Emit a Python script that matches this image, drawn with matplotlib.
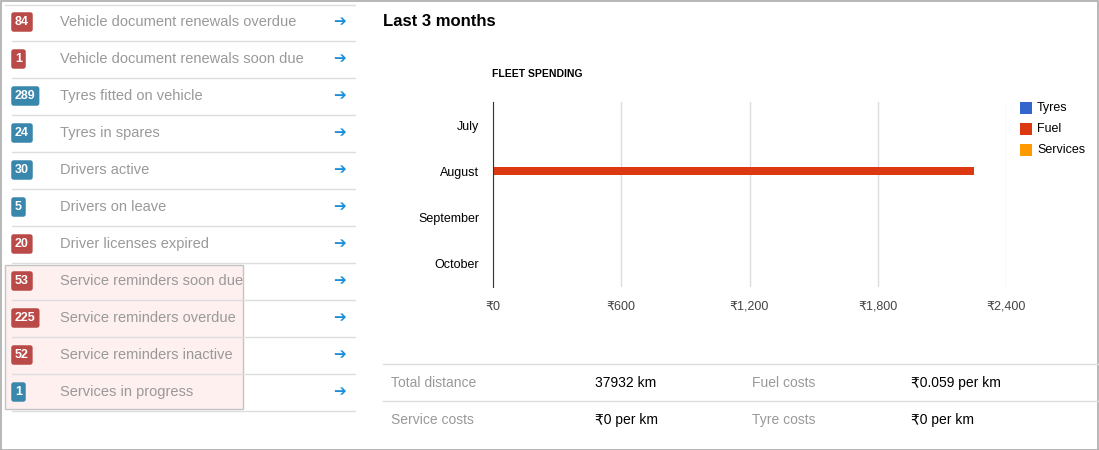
import matplotlib.pyplot as plt
from matplotlib.patches import Rectangle
from matplotlib.lines import Line2D

plt.rcParams['font.family'] = ['Liberation Sans', 'DejaVu Sans']

W, H = 1099, 450

# left panel data
counts = [84, 1, 289, 24, 30, 5, 20, 53, 225, 52, 1]
labels = ["Vehicle document renewals overdue", "Vehicle document renewals soon due",
          "Tyres fitted on vehicle", "Tyres in spares", "Drivers active",
          "Drivers on leave", "Driver licenses expired", "Service reminders soon due",
          "Service reminders overdue", "Service reminders inactive", "Services in progress"]
kinds = ["bad", "bad", "info", "info", "info", "info", "bad", "bad", "bad", "bad", "info"]

# chart data
months = ["July", "August", "September", "October"]
tyres = [0, 0, 0, 0]
fuel = [0, 2250, 0, 0]
services = [0, 0, 0, 0]
xticks = [0, 600, 1200, 1800, 2400]

# summary table
summary = [("Total distance", "37932 km", "Fuel costs", "₹0.059 per km"),
           ("Service costs", "₹0 per km", "Tyre costs", "₹0 per km")]

fig = plt.figure(figsize=(W / 100, H / 100), dpi=100)
fig.patch.set_facecolor('white')


def fx(x):
    return x / W


def fy(y):
    return 1 - y / H


def hline(x0, x1, y, c='#dddddd'):
    fig.add_artist(Line2D([fx(x0), fx(x1)], [fy(y), fy(y)], color=c, lw=1))


# outer border
fig.add_artist(Rectangle((0.0005, 0.001), 0.999, 0.997, fill=False, ec='#aaaaaa', lw=1.2))

# highlight box
fig.add_artist(Rectangle((fx(5), fy(409)), fx(238), 144 / H, fc='#fdf0ef', ec='#c4c4c4', lw=1))

badge_col = {"bad": "#b94a48", "info": "#3a87ad"}
hline(5, 355, 5)
for i, (n, lab, k) in enumerate(zip(counts, labels, kinds)):
    yc = 22 + i * 37
    fig.text(fx(15), fy(yc), str(n), color='white', fontsize=9, fontweight='bold',
             va='center', ha='left',
             bbox=dict(boxstyle='round,pad=0.3,rounding_size=0.2', fc=badge_col[k], ec='none'))
    fig.text(fx(60), fy(yc), lab, color='#999999', fontsize=10.5, va='center')
    fig.text(fx(340), fy(yc), '➔', color='#1a8ed8', fontsize=11, va='center', ha='center',
             family='DejaVu Sans')
    hline(12, 355, yc + 19)

fig.text(fx(383), fy(22), "Last 3 months", fontsize=12, fontweight='bold', va='center')
fig.text(fx(492), fy(74), "FLEET SPENDING", fontsize=7.5, fontweight='bold', va='center')

ax = fig.add_axes([fx(493), fy(287), (1006 - 493) / W, 185 / H])
ys = range(len(months))
h = 0.17
ax.barh([y - h for y in ys], tyres, height=h, color='#3366cc')
ax.barh(list(ys), fuel, height=h, color='#dc3912')
ax.barh([y + h for y in ys], services, height=h, color='#ff9900')
ax.set_ylim(3.5, -0.5)
ax.set_xlim(0, 2400)
ax.set_yticks(list(ys))
ax.set_yticklabels(months, fontsize=9)
ax.set_xticks(xticks)
ax.set_xticklabels(["₹{:,}".format(v) for v in xticks], fontsize=9, color='#444444')
ax.tick_params(length=0, pad=10)
ax.grid(axis='x', color='#dddddd', lw=1)
ax.set_axisbelow(True)
for s in ['top', 'right', 'bottom']:
    ax.spines[s].set_visible(False)
ax.spines['left'].set_color('#333333')

for i, (name, c) in enumerate([("Tyres", '#3366cc'), ("Fuel", '#dc3912'), ("Services", '#ff9900')]):
    y = 108 + i * 21
    fig.add_artist(Rectangle((fx(1020), fy(y + 6)), fx(12), 12 / H, fc=c, ec='none'))
    fig.text(fx(1037), fy(y), name, fontsize=9, va='center')

hline(383, 1099, 364)
hline(383, 1099, 401)
for i, row in enumerate(summary):
    y = 383 + i * 37
    fig.text(fx(391), fy(y), row[0], color='#999999', fontsize=10, va='center')
    fig.text(fx(595), fy(y), row[1], color='black', fontsize=10, va='center')
    fig.text(fx(752), fy(y), row[2], color='#999999', fontsize=10, va='center')
    fig.text(fx(911), fy(y), row[3], color='black', fontsize=10, va='center')

fig.savefig('out.png', dpi=100)
